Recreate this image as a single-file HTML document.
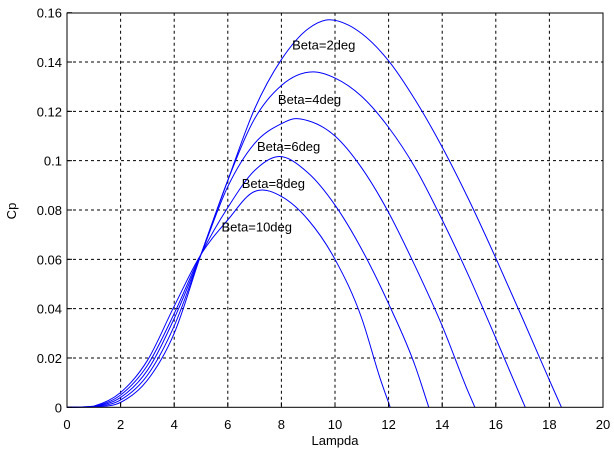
<!DOCTYPE html>
<html><head><meta charset="utf-8"><style>
html,body{margin:0;padding:0;background:#fff;}
svg{display:block;font-family:"Liberation Sans",Arial,sans-serif;}
</style></head><body>
<svg id="chart" width="614" height="453" viewBox="0 0 614 453">
<rect x="0" y="0" width="614" height="453" fill="#fff"/>
<g id="grid"></g>
<g id="series"></g>
<rect x="67" y="13" width="536" height="394.3" fill="none" stroke="#000" stroke-width="1"/>
<g id="ticks"></g>
<g id="labels"></g>
<text x="335" y="445" font-size="13" text-anchor="middle">Lampda</text>
<text x="0" y="0" font-size="13" text-anchor="middle" transform="translate(16,211) rotate(-90)">Cp</text>
</svg>
<script>
const xTicks = [0,2,4,6,8,10,12,14,16,18,20];
const yTicks = [0,0.02,0.04,0.06,0.08,0.1,0.12,0.14,0.16];
const yTickLabels = ["0","0.02","0.04","0.06","0.08","0.1","0.12","0.14","0.16"];
const seriesNames = ["Beta=2deg","Beta=4deg","Beta=6deg","Beta=8deg","Beta=10deg"];
const lam2 = [0,1,2,3,4,5,6,7,8,9,9.65,10.5,11,12,13,14,15,16,17,18,18.45];
const cp2  = [0,0.0001,0.002,0.011,0.030,0.062,0.092,0.121,0.141,0.1535,0.157,0.155,0.1515,0.1405,0.1245,0.1055,0.084,0.0605,0.036,0.011,0];
const lam4 = [0,1,2,3,4,5,6,7,8,9.18,10,11,12,13,14,15,16,17,17.1];
const cp4  = [0,0.0002,0.003,0.013,0.033,0.062,0.092,0.117,0.1305,0.136,0.1335,0.126,0.1135,0.097,0.076,0.053,0.028,0.0025,0];
const lam6 = [0,1,2,3,4,5,6,7,8,8.47,9,10,11,12,13,14,15,15.22];
const cp6  = [0,0.0003,0.004,0.015,0.036,0.062,0.0895,0.107,0.115,0.117,0.1162,0.110,0.097,0.079,0.057,0.033,0.0055,0];
const lam8 = [0,1,2,3,4,5,6,7,7.83,9,10,11,12,13,13.5];
const cp8  = [0,0.0004,0.005,0.017,0.038,0.062,0.081,0.096,0.1016,0.095,0.082,0.064,0.042,0.0165,0];
const lam10 = [0,1,2,3,4,5,6,7,7.17,8,9,10,11,11.69,12.06];
const cp10  = [0,0.0005,0.006,0.019,0.041,0.062,0.076,0.0875,0.088,0.0855,0.076,0.060,0.036,0.0115,0];
const labelLam = [9.58,9.05,8.27,7.7,7.08];
const labelCp = [0.145,0.123,0.104,0.089,0.0713];

const X0=67, X1=603, Y0=407.3, Y1=12.7;
const sx = v => X0 + (v/20)*(X1-X0);
const sy = v => Y0 - (v/0.16)*(Y0-Y1);
const NS='http://www.w3.org/2000/svg';
function mk(tag, attrs, parent){const e=document.createElementNS(NS,tag);for(const k in attrs)e.setAttribute(k,attrs[k]);parent.appendChild(e);return e;}
const grid=document.getElementById('grid'), ticks=document.getElementById('ticks');
xTicks.forEach((t,i)=>{
  const x=sx(t);
  if(i>0&&i<xTicks.length-1){const g=mk('line',{x1:x,y1:Y1,x2:x,y2:Y0,stroke:'#000','stroke-width':1,'stroke-dasharray':'3,3'},grid);
  
  }
  const tk=mk('line',{x1:x,y1:Y0,x2:x,y2:Y0-5,stroke:'#000'},ticks);
  
  
  const tl=mk('text',{x:x,y:429,'font-size':13,'text-anchor':'middle'},ticks);tl.textContent=String(t);
  
  
});
yTicks.forEach((t,i)=>{
  const y=sy(t);
  if(i>0&&i<yTicks.length-1){const g=mk('line',{x1:X0,y1:y,x2:X1,y2:y,stroke:'#000','stroke-width':1,'stroke-dasharray':'3,3'},grid);
  
  }
  const tk=mk('line',{x1:X0,y1:y,x2:X0+5,y2:y,stroke:'#000'},ticks);
  
  
  const tl=mk('text',{x:62,y:y+5,'font-size':13,'text-anchor':'end'},ticks);tl.textContent=yTickLabels[i];
  
  
});
function smoothPath(xs,ys){
  const n=xs.length,d=[],m=new Array(n);
  for(let i=0;i<n-1;i++)d.push((ys[i+1]-ys[i])/(xs[i+1]-xs[i]));
  m[0]=d[0];m[n-1]=d[n-2];
  for(let i=1;i<n-1;i++){const h0=xs[i]-xs[i-1],h1=xs[i+1]-xs[i];m[i]=(d[i-1]*h1+d[i]*h0)/(h0+h1);}
  for(let i=0;i<n-1;i++){if(ys[i]===0&&ys[i+1]<0.0002){m[i]=Math.min(m[i],d[i]);}}
  let p='M'+sx(xs[0]).toFixed(2)+','+sy(ys[0]).toFixed(2);
  for(let i=0;i<n-1;i++){const h=xs[i+1]-xs[i];
    p+=' C'+sx(xs[i]+h/3).toFixed(2)+','+sy(Math.max(0,ys[i]+m[i]*h/3)).toFixed(2)+' '+sx(xs[i+1]-h/3).toFixed(2)+','+sy(Math.max(0,ys[i+1]-m[i+1]*h/3)).toFixed(2)+' '+sx(xs[i+1]).toFixed(2)+','+sy(ys[i+1]).toFixed(2);}
  return p;
}
const seriesG=document.getElementById('series');
const allLam=[lam2,lam4,lam6,lam8,lam10], allCp=[cp2,cp4,cp6,cp8,cp10];
allLam.forEach((xs,i)=>{
  const p=mk('path',{d:smoothPath(xs,allCp[i]),fill:'none',stroke:'#0000ff','stroke-width':1},seriesG);
  
  
});
const labels=document.getElementById('labels');
seriesNames.forEach((s,i)=>{
  const t=mk('text',{x:sx(labelLam[i]),y:sy(labelCp[i]),'font-size':13,'text-anchor':'middle'},labels);
  t.textContent=s;
  
  
});
</script>
</body></html>
